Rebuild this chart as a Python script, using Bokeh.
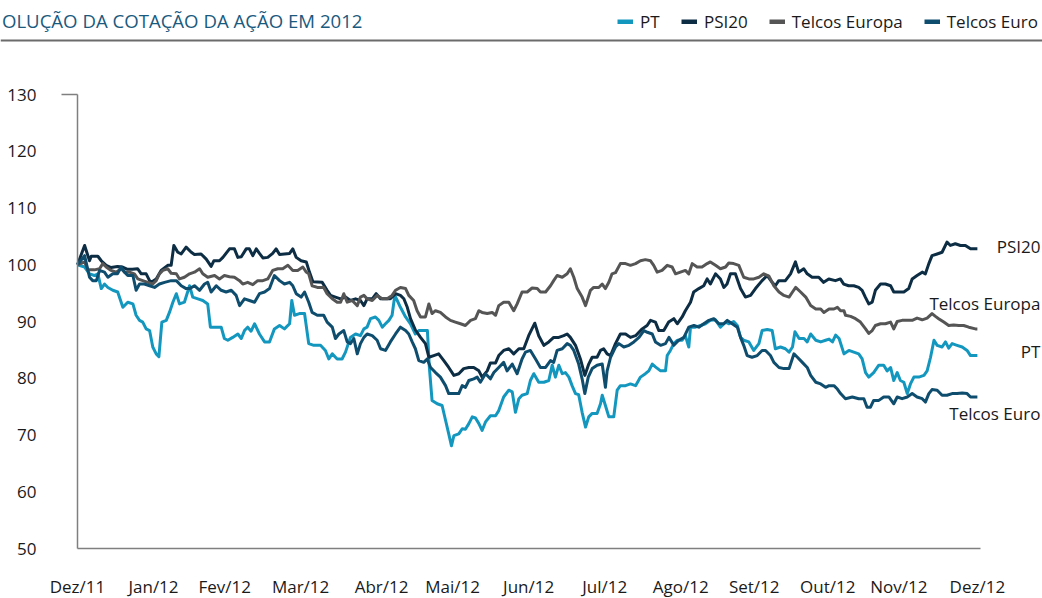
from bokeh.plotting import figure
from bokeh.models import Range1d, FixedTicker, Label, Legend, LegendItem, Span, LinearAxis
from bokeh.embed import file_html
from bokeh.resources import INLINE

FONT = "Open Sans"

# ---------------- data (x = calendar days since 30 Dec 2011, base 100) -------------
psi20_day = [0, 2.9, 4.9, 5.6, 8.3, 9.7, 11.7, 13.7, 16.3, 18.4, 20.4, 22.4, 24.5, 26.0, 28.0, 29.4, 30.1, 32.1, 34.1, 36.8,
             38.2, 39.3, 40.9, 42.3, 44.3, 46.4, 47.7, 50.4, 52.5, 54.5, 55.6, 57.9, 59.3, 62.0, 64.0, 65.4, 66.8, 68.8, 70.1, 71.5,
             72.9, 74.2, 75.6, 77.6, 79.6, 81.0, 82.4, 84.4, 86.5, 87.8, 89.2, 91.2, 93.3, 94.6, 96.0, 99.8, 101.8, 103.2, 105.2, 107.3,
             109.3, 111.3, 113.4, 115.4, 116.8, 118.1, 120.2, 121.8, 123.6, 125.6, 127.6, 129.7, 131.7, 133.1, 134.5, 135.8, 137.8, 139.9, 141.9, 143.3,
             145.3, 147.3, 149.4, 151.4, 153.5, 155.5, 157.5, 159.6, 161.6, 163.7, 165.0, 167.1, 168.4, 170.5, 171.8, 173.8, 175.9, 177.9, 180.0, 182.0,
             184.0, 186.5, 188.1, 190.2, 192.2, 194.2, 196.3, 198.3, 199.7, 201.0, 203.1, 205.1, 206.9, 208.5, 209.9, 211.9, 213.3, 214.6, 216.0, 217.4,
             219.4, 221.4, 223.5, 225.5, 227.6, 230.3, 232.3, 233.7, 235.7, 237.1, 239.1, 241.1, 243.2, 244.6, 246.6, 247.9, 250.0, 251.3, 253.4, 255.4,
             256.8, 258.1, 260.2, 262.2, 263.6, 264.9, 266.3, 268.3, 270.4, 272.4, 274.5, 276.5, 279.2, 281.3, 283.3, 284.6, 286.0, 288.7, 290.8, 292.8,
             294.1, 296.2, 297.6, 299.6, 302.3, 304.3, 306.4, 309.1, 311.1, 312.5, 314.5, 316.6, 318.6, 320.0, 321.3, 322.7, 324.1, 325.4, 327.5, 329.5,
             331.6, 332.9, 334.9, 337.0, 339.0, 340.4, 342.4, 344.5, 345.8, 347.2, 348.5, 350.6, 352.6, 354.6, 356.0, 358.0, 360.1, 362.1, 364.2, 366.2, 367.0]
psi20_val = [100.0, 103.4, 100.7, 101.5, 101.5, 100.7, 99.9, 99.5, 99.7, 99.6, 99.2, 99.2, 99.3, 98.4, 98.4, 97.2, 96.9, 97.5, 99.0, 99.9,
             99.9, 103.4, 102.2, 101.9, 103.1, 102.2, 101.8, 101.9, 101.0, 99.7, 100.7, 100.7, 101.3, 102.8, 102.8, 101.3, 101.4, 102.8, 102.8, 101.6,
             102.8, 102.0, 101.2, 101.3, 102.0, 102.8, 101.8, 101.9, 102.0, 102.8, 101.3, 100.7, 100.5, 98.7, 97.0, 96.9, 95.5, 94.6, 94.3, 94.0,
             94.3, 93.7, 94.0, 93.7, 92.8, 94.0, 94.0, 94.9, 94.0, 94.0, 94.0, 94.9, 94.6, 94.0, 92.5, 90.5, 88.5, 87.2, 86.1, 83.7,
             84.0, 84.3, 83.1, 81.9, 80.5, 80.8, 81.7, 81.9, 81.9, 81.3, 80.2, 81.3, 82.7, 82.7, 84.0, 84.9, 85.2, 84.3, 85.2, 85.2,
             87.5, 89.7, 87.5, 85.8, 86.4, 87.2, 87.2, 87.5, 87.8, 87.2, 85.8, 83.4, 80.5, 82.5, 83.7, 83.7, 84.9, 85.2, 84.3, 84.0,
             86.1, 87.8, 87.8, 87.2, 87.5, 88.7, 89.3, 90.2, 89.9, 88.4, 88.4, 89.9, 90.5, 89.6, 90.8, 91.9, 93.4, 95.2, 95.8, 96.3,
             97.5, 96.6, 98.4, 97.5, 96.0, 96.6, 98.4, 98.4, 95.8, 94.3, 94.6, 95.8, 97.2, 98.1, 96.9, 96.3, 97.2, 97.2, 98.4, 100.5,
             98.7, 99.3, 98.4, 97.8, 97.8, 96.9, 97.5, 97.2, 97.5, 96.6, 96.3, 96.3, 96.0, 95.5, 94.3, 93.1, 93.4, 95.5, 96.6, 96.6,
             96.3, 95.2, 95.2, 95.2, 95.8, 97.5, 98.1, 98.7, 98.4, 100.2, 101.6, 101.9, 102.2, 104.0, 103.4, 103.7, 103.4, 103.4, 102.8, 102.8, 102.8]

teu_day = [0, 2.9, 4.2, 6.9, 9.0, 10.3, 11.7, 13.7, 15.8, 17.8, 19.2, 21.2, 23.2, 24.6, 26.6, 28.7, 30.7, 32.1, 33.4, 34.8,
           36.8, 38.2, 40.3, 41.6, 43.6, 45.7, 47.7, 49.8, 51.1, 53.1, 55.9, 57.9, 59.9, 62.0, 64.0, 66.1, 67.4, 69.4, 71.5, 73.5,
           75.6, 77.6, 79.6, 81.7, 83.7, 85.8, 87.8, 89.8, 91.9, 93.3, 94.3, 95.7, 97.8, 100.4, 101.8, 103.9, 105.9, 107.3, 108.6, 110.0,
           112.0, 114.1, 115.4, 116.8, 118.1, 120.2, 122.2, 124.3, 126.3, 128.3, 129.7, 131.7, 133.8, 135.1, 137.1, 138.5, 139.9, 141.9, 143.3, 144.6,
           146.0, 148.0, 150.1, 152.1, 154.1, 156.2, 158.2, 160.3, 162.3, 163.7, 165.0, 167.1, 169.1, 170.5, 171.8, 173.8, 175.9, 177.9, 179.3, 181.3,
           183.4, 185.4, 187.5, 188.8, 190.9, 192.9, 194.2, 195.6, 197.7, 199.7, 201.0, 202.4, 203.8, 205.8, 207.2, 209.2, 210.5, 212.6, 214.0, 215.3,
           216.7, 218.0, 219.4, 221.4, 223.5, 225.5, 227.6, 229.6, 231.6, 233.7, 235.0, 236.4, 238.4, 240.5, 242.5, 243.9, 245.9, 247.9, 249.3, 250.7,
           252.7, 254.7, 256.8, 258.1, 260.2, 262.2, 264.3, 265.6, 267.6, 269.7, 271.7, 273.8, 275.8, 277.9, 279.9, 282.0, 284.0, 286.1, 288.1, 290.2,
           291.6, 292.9, 294.9, 297.0, 299.0, 301.1, 303.1, 304.4, 306.5, 308.5, 309.9, 311.2, 312.6, 313.2, 315.3, 317.3, 319.3, 321.4, 322.7, 324.1,
           325.4, 327.5, 329.5, 331.6, 332.9, 334.3, 336.3, 338.4, 340.4, 342.4, 344.5, 346.5, 348.5, 349.9, 351.2, 353.3, 355.3, 357.3, 359.4, 361.4,
           363.5, 366.2, 367.0]
teu_val = [100.0, 100.5, 99.1, 99.1, 99.3, 100.2, 99.6, 99.0, 98.7, 99.3, 98.7, 98.7, 98.4, 97.5, 97.2, 96.9, 96.6, 97.2, 98.4, 99.0,
           99.3, 98.5, 98.4, 97.5, 97.8, 98.4, 98.7, 99.3, 98.4, 97.8, 98.1, 97.5, 98.1, 97.9, 97.8, 97.2, 96.6, 96.9, 96.5, 97.2,
           97.2, 97.5, 99.0, 99.3, 99.3, 99.9, 99.0, 99.0, 99.6, 98.7, 98.4, 96.3, 96.0, 96.0, 94.9, 94.0, 93.4, 93.4, 94.9, 93.4,
           93.7, 92.8, 94.3, 94.6, 94.0, 93.7, 94.6, 94.0, 94.0, 94.6, 95.5, 96.0, 95.8, 94.6, 93.7, 91.9, 90.8, 90.8, 93.1, 91.4,
           91.9, 91.6, 90.8, 90.2, 89.9, 89.6, 89.3, 90.2, 90.5, 91.9, 91.6, 91.4, 91.6, 91.1, 92.8, 93.4, 93.4, 91.9, 93.1, 95.2,
           95.2, 95.9, 95.8, 95.2, 95.2, 96.3, 97.2, 98.1, 97.8, 98.4, 99.3, 97.8, 95.8, 94.3, 92.8, 95.5, 96.0, 96.0, 96.6, 95.8,
           96.9, 98.4, 98.6, 100.2, 100.2, 99.9, 100.2, 100.7, 100.9, 100.7, 99.9, 98.7, 99.0, 99.9, 99.6, 98.4, 98.7, 99.0, 98.4, 100.2,
           99.6, 99.6, 100.2, 100.5, 99.9, 99.3, 99.6, 100.3, 100.2, 99.9, 97.8, 97.5, 97.5, 97.8, 98.4, 98.0, 96.3, 95.2, 94.6, 94.3,
           95.2, 96.0, 95.2, 94.3, 92.8, 92.2, 92.2, 91.6, 92.2, 92.2, 92.5, 91.9, 91.9, 91.1, 90.9, 90.5, 89.9, 88.7, 87.9, 88.4,
           89.3, 89.6, 89.6, 89.9, 88.7, 90.0, 90.2, 90.2, 90.2, 90.6, 90.3, 90.6, 91.4, 90.9, 90.5, 89.9, 89.3, 89.4, 89.3, 89.3,
           89.0, 88.7, 88.7]

tes_day = [0, 2.9, 4.9, 6.2, 7.7, 9.0, 11.0, 12.4, 14.4, 16.3, 17.8, 19.2, 20.5, 22.6, 23.9, 25.3, 27.3, 29.4, 31.4, 33.4,
           35.5, 38.2, 40.3, 42.3, 44.3, 45.7, 47.7, 49.8, 51.8, 53.1, 54.5, 56.6, 58.6, 60.6, 62.7, 64.7, 66.1, 68.1, 70.1, 72.2,
           74.2, 76.3, 78.3, 80.3, 82.4, 84.4, 86.5, 87.8, 89.2, 91.2, 92.6, 94.3, 95.7, 97.8, 100.4, 101.8, 103.9, 105.2, 106.6, 108.6,
           110.0, 111.3, 112.7, 114.1, 115.4, 116.8, 118.1, 120.2, 122.2, 123.6, 125.6, 127.6, 129.7, 131.7, 133.8, 135.1, 136.5, 137.8, 139.2, 141.2,
           142.6, 144.0, 146.0, 148.0, 150.1, 151.4, 153.5, 155.5, 156.9, 158.2, 159.6, 161.6, 163.0, 164.3, 166.4, 168.4, 169.8, 171.8, 173.8, 175.2,
           177.3, 179.3, 181.3, 182.7, 184.7, 186.8, 188.8, 190.9, 192.9, 194.2, 195.6, 197.7, 199.7, 201.0, 202.4, 204.4, 205.8, 206.9, 208.3, 209.9,
           211.9, 214.0, 215.3, 216.0, 217.4, 219.4, 220.8, 222.8, 224.9, 226.9, 229.0, 231.0, 232.4, 234.4, 235.7, 237.8, 239.8, 241.2, 243.2, 245.2,
           247.3, 249.3, 251.4, 253.4, 255.4, 257.5, 259.5, 261.6, 263.6, 265.0, 267.0, 269.1, 270.4, 271.7, 273.1, 275.1, 277.2, 279.2, 280.6, 282.6,
           284.0, 286.1, 288.1, 290.2, 292.2, 293.6, 295.6, 297.6, 299.0, 301.1, 303.1, 305.1, 306.5, 308.5, 309.9, 311.2, 313.2, 316.0, 318.6, 320.7,
           322.0, 323.4, 324.7, 326.8, 328.8, 330.9, 332.9, 334.3, 336.3, 338.4, 340.4, 342.4, 344.5, 345.8, 347.2, 348.5, 350.6, 352.6, 354.6, 356.7,
           358.7, 360.8, 362.8, 364.2, 366.2, 367.0]
tes_val = [100.0, 101.6, 97.8, 97.2, 97.2, 99.0, 98.7, 97.8, 98.4, 98.4, 99.6, 98.7, 98.1, 98.1, 95.5, 96.6, 96.6, 96.3, 96.0, 96.6,
           96.9, 97.2, 97.2, 96.3, 95.8, 95.8, 96.3, 95.5, 96.6, 96.9, 95.2, 96.3, 95.5, 95.2, 95.5, 94.6, 92.8, 94.0, 93.7, 93.4,
           94.9, 95.2, 95.8, 98.1, 97.2, 96.6, 96.9, 96.3, 94.9, 94.3, 95.2, 93.4, 91.6, 91.1, 91.1, 89.9, 89.0, 87.0, 87.8, 88.4,
           86.4, 86.1, 87.0, 84.3, 86.1, 87.2, 87.8, 87.5, 86.7, 85.2, 84.9, 86.4, 87.8, 89.0, 88.4, 87.8, 86.4, 85.2, 83.1, 82.8,
           83.4, 81.9, 81.0, 80.2, 78.7, 77.3, 77.3, 77.3, 78.7, 78.4, 79.6, 79.9, 80.2, 79.3, 80.8, 79.9, 81.0, 81.9, 82.8, 81.3,
           82.5, 80.8, 83.4, 84.6, 84.9, 83.4, 81.9, 81.9, 83.1, 82.8, 84.9, 85.2, 86.1, 85.8, 84.9, 82.5, 79.9, 77.3, 80.2, 81.7,
           82.3, 82.5, 78.4, 81.3, 83.7, 85.5, 86.1, 85.5, 85.8, 86.4, 87.2, 88.4, 88.1, 87.8, 86.4, 85.8, 86.1, 87.2, 85.8, 86.7,
           87.2, 89.0, 89.3, 89.0, 89.6, 90.2, 90.5, 89.6, 89.6, 90.2, 89.6, 89.0, 87.2, 85.8, 84.0, 83.7, 84.0, 84.9, 84.9, 84.0,
           82.8, 81.9, 81.7, 81.7, 84.3, 83.7, 82.8, 81.9, 80.5, 79.3, 79.0, 78.4, 78.7, 78.7, 78.1, 77.3, 76.4, 76.7, 76.4, 76.4,
           74.9, 74.9, 76.1, 76.1, 76.7, 76.7, 75.5, 76.7, 76.4, 76.7, 77.3, 76.7, 76.4, 75.8, 77.3, 78.0, 77.9, 77.0, 77.0, 77.3,
           77.3, 77.4, 77.3, 76.7, 76.7, 76.7]

pt_day = [0, 2.9, 4.9, 6.9, 8.3, 9.7, 11.0, 12.4, 14.4, 16.4, 18.5, 20.5, 22.6, 23.9, 25.3, 26.6, 28.0, 29.4, 30.7, 32.1,
          33.2, 34.4, 36.2, 37.5, 38.9, 40.3, 41.6, 43.6, 45.7, 47.0, 49.1, 51.1, 53.1, 54.2, 56.6, 58.6, 59.9, 61.3, 63.3, 65.4,
          66.8, 68.1, 69.4, 70.8, 72.2, 74.2, 76.3, 78.3, 80.3, 82.4, 84.4, 86.5, 87.4, 88.5, 90.5, 92.6, 94.3, 96.4, 99.1, 101.1,
          102.5, 103.9, 105.9, 107.9, 109.3, 111.3, 113.4, 115.4, 116.8, 118.1, 119.5, 121.5, 122.9, 124.3, 125.6, 127.0, 128.3, 129.4, 130.4, 131.7,
          133.8, 135.8, 137.8, 139.2, 141.2, 142.7, 143.5, 144.6, 146.7, 148.7, 150.1, 151.4, 152.5, 153.5, 155.5, 156.9, 158.2, 159.6, 161.0, 162.3,
          163.7, 165.0, 166.4, 168.4, 170.5, 171.8, 173.8, 175.9, 177.3, 178.6, 180.0, 181.3, 183.4, 184.7, 186.1, 188.1, 190.2, 192.2, 193.6, 194.9,
          196.3, 197.7, 199.0, 200.4, 201.7, 203.1, 204.4, 205.8, 207.2, 208.5, 209.9, 211.9, 213.3, 214.0, 215.3, 216.7, 218.7, 220.1, 221.4, 223.5,
          225.5, 227.6, 229.6, 231.6, 233.0, 234.4, 235.7, 237.8, 239.8, 240.5, 241.8, 243.2, 244.6, 246.6, 247.9, 249.3, 250.0, 252.0, 254.1, 256.1,
          258.1, 260.2, 262.2, 264.3, 265.6, 267.6, 269.1, 270.4, 271.7, 273.8, 275.8, 277.9, 279.2, 281.3, 283.3, 284.6, 286.7, 288.7, 290.2, 291.6,
          292.6, 294.3, 296.3, 297.6, 299.0, 301.1, 303.1, 305.1, 306.5, 307.9, 309.2, 310.6, 312.6, 314.6, 316.6, 318.6, 320.0, 321.4, 322.7, 324.7,
          326.8, 328.8, 330.2, 331.6, 332.9, 334.3, 335.6, 337.0, 338.4, 339.7, 341.1, 343.1, 345.2, 346.5, 347.9, 349.3, 350.6, 352.6, 354.0, 355.3,
          356.7, 358.7, 360.8, 362.8, 364.2, 366.2, 367.0]
pt_val = [100.0, 99.6, 98.4, 98.1, 98.4, 95.8, 96.6, 96.0, 95.5, 95.2, 92.5, 93.4, 93.1, 91.1, 90.2, 89.9, 88.7, 88.4, 85.5, 84.3,
          83.8, 89.9, 90.2, 91.6, 93.4, 94.9, 93.1, 93.4, 96.3, 94.3, 94.0, 93.7, 93.1, 89.0, 89.0, 89.0, 87.0, 86.7, 87.2, 87.8,
          87.0, 88.4, 89.0, 88.3, 89.6, 87.8, 86.4, 86.4, 88.7, 89.3, 88.7, 89.6, 93.7, 91.1, 91.4, 91.4, 86.1, 85.8, 85.8, 84.9,
          83.4, 84.3, 83.4, 83.4, 84.6, 87.2, 87.8, 87.5, 88.7, 89.0, 90.5, 90.8, 90.2, 89.0, 89.6, 90.2, 91.1, 94.6, 93.7, 92.5,
          90.8, 89.6, 87.8, 88.4, 88.4, 88.4, 81.9, 76.1, 75.5, 75.2, 72.6, 70.2, 68.1, 69.9, 70.2, 71.1, 71.0, 72.0, 73.2, 73.0,
          72.0, 70.8, 72.3, 73.4, 73.4, 74.3, 76.7, 77.9, 77.6, 74.0, 76.4, 77.0, 77.3, 79.6, 80.8, 79.3, 79.3, 79.6, 82.3, 80.2,
          82.3, 80.8, 81.0, 80.2, 78.7, 77.3, 77.1, 74.0, 71.4, 73.2, 73.8, 73.8, 75.5, 77.0, 75.2, 73.2, 73.2, 77.9, 78.7, 78.7,
          79.0, 78.7, 80.2, 80.8, 81.3, 82.5, 82.0, 81.3, 81.3, 84.0, 84.9, 86.1, 86.7, 86.7, 87.5, 85.5, 89.0, 89.0, 89.3, 89.6,
          90.2, 90.3, 89.0, 89.9, 89.6, 90.0, 89.3, 87.2, 86.7, 86.4, 84.9, 86.1, 88.4, 88.6, 88.4, 85.2, 85.5, 85.2, 84.6, 85.5,
          88.2, 87.0, 87.0, 86.4, 87.8, 86.7, 86.4, 86.7, 86.9, 86.4, 87.6, 87.0, 84.3, 84.9, 84.6, 84.3, 83.4, 81.0, 80.2, 81.0,
          82.3, 82.3, 81.3, 81.9, 79.6, 81.0, 79.6, 79.3, 77.3, 79.0, 80.2, 80.2, 80.5, 81.3, 83.7, 86.7, 85.8, 85.5, 86.4, 85.3,
          86.1, 85.8, 85.5, 84.9, 84.0, 84.0, 84.0]

series_names = ["PT", "PSI20", "Telcos Europa", "Telcos Euro"]
series_days = [pt_day, psi20_day, teu_day, tes_day]
series_vals = [pt_val, psi20_val, teu_val, tes_val]
colors = ["#1497bf", "#0c2d44", "#555555", "#0f4d6e"]

tick_days = [0, 31, 60, 91, 124, 153, 184, 215, 246, 276, 306, 335, 367]
tick_labels = ["Dez/11", "Jan/12", "Fev/12", "Mar/12", "Abr/12", "Mai/12", "Jun/12",
               "Jul/12", "Ago/12", "Set/12", "Out/12", "Nov/12", "Dez/12"]
y_ticks = [50, 60, 70, 80, 90, 100, 110, 120, 130]

title_text = "OLUÇÃO DA COTAÇÃO DA AÇÃO EM 2012"

# ---------------- single figure; frame = whole canvas, axes at fixed locations ----------------
W, H = 1042, 598
PX_PER_DAY = 2.452
PX_PER_UNIT = 5.675
X0_PX = 77      # canvas x of day 0
Y130_PX = 94    # canvas y (from top) of value 130
x_start = -X0_PX / PX_PER_DAY
y_end = 130 + Y130_PX / PX_PER_UNIT

p = figure(width=W, height=H, title=None,
           x_range=Range1d(x_start, x_start + W / PX_PER_DAY),
           y_range=Range1d(y_end - H / PX_PER_UNIT, y_end),
           x_axis_type=None, y_axis_type=None,
           output_backend="svg", toolbar_location=None, min_border=0)
p.min_border_left = p.min_border_right = p.min_border_top = p.min_border_bottom = 0
p.outline_line_color = None
p.background_fill_color = "white"
p.border_fill_color = "white"

AX = "#7f7f7f"
TXT = "#1a1a1a"
yax = LinearAxis(fixed_location=0, bounds=(50, 130))
yax.ticker = FixedTicker(ticks=y_ticks, minor_ticks=[130])
yax.major_tick_line_color = None
yax.major_tick_in = 0
yax.major_tick_out = 0
yax.minor_tick_in = 0
yax.minor_tick_out = 16
yax.minor_tick_line_color = AX
yax.minor_tick_line_width = 1.5
yax.axis_line_color = AX
yax.axis_line_width = 1.5
yax.major_label_standoff = 25
yax.major_label_text_font = FONT
yax.major_label_text_font_size = "17px"
yax.major_label_text_color = TXT
p.add_layout(yax, "left")

xax = LinearAxis(fixed_location=50, bounds=(0, 368.3))
xax.ticker = FixedTicker(ticks=tick_days)
xax.major_label_overrides = {d: t for d, t in zip(tick_days, tick_labels)}
xax.major_tick_line_color = None
xax.minor_tick_line_color = None
xax.major_tick_in = 0
xax.major_tick_out = 0
xax.minor_tick_in = 0
xax.minor_tick_out = 0
xax.axis_line_color = AX
xax.axis_line_width = 1.5
xax.major_label_standoff = 26
xax.major_label_text_font = FONT
xax.major_label_text_font_size = "17px"
xax.major_label_text_color = TXT
p.add_layout(xax, "below")

renderers = []
for d, v, c in zip(series_days, series_vals, colors):
    renderers.append(p.line(d, v, line_color=c, line_width=3, line_join="round"))

# thicker hidden copies used only as legend swatches
swatches = []
for d, v, c in zip(series_days, series_vals, colors):
    swatches.append(p.line(d, v, line_color=c, line_width=5, visible=False))

# end-of-line labels
end_label_x = 392.7
end_label_y = {"PSI20": 103.2, "Telcos Europa": 93.2, "PT": 84.7, "Telcos Euro": 73.8}
for name in ["PSI20", "Telcos Europa", "PT", "Telcos Euro"]:
    p.add_layout(Label(x=end_label_x, y=end_label_y[name], text=name,
                       text_align="right", text_baseline="middle",
                       text_font=FONT, text_font_size="17px", text_color=TXT))

# header: rule, title, legend
p.add_layout(Span(location=139.52, dimension="width", line_color="#6b6b6b", line_width=2))
p.add_layout(Label(x=116.2, y=143.04, text=title_text, text_align="right", text_baseline="middle",
                   text_font=FONT, text_font_size="18.6px", text_color="#1a5a7e"))

items = [LegendItem(label=n, renderers=[r]) for n, r in zip(series_names, swatches)]
leg = Legend(items=items, orientation="horizontal", location=(617, 565),
             glyph_width=16, glyph_height=5, label_standoff=7, spacing=21,
             padding=0, margin=0, border_line_color=None, background_fill_alpha=0,
             inactive_fill_alpha=0,
             label_text_font=FONT, label_text_font_size="17px", label_text_color=TXT)
p.add_layout(leg)

open("out.html", "w").write(file_html(p, INLINE))
